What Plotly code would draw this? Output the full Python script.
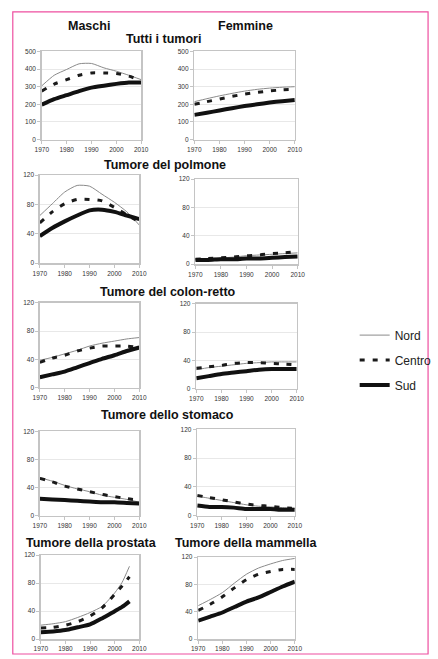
import plotly.graph_objects as go

W, H = 438, 659

years = [1970, 1975, 1980, 1985, 1990, 1995, 2000, 2005, 2010]
years_prostata = [1970, 1975, 1980, 1985, 1990, 1995, 2000, 2003, 2006]

tutti_M_nord = [305, 365, 398, 430, 432, 407, 388, 365, 340]
tutti_M_centro = [275, 315, 340, 365, 378, 378, 375, 360, 335]
tutti_M_sud = [198, 229, 252, 275, 295, 306, 316, 324, 324]

tutti_F_nord = [215, 232, 248, 262, 275, 285, 292, 297, 300]
tutti_F_centro = [200, 215, 230, 245, 258, 268, 276, 282, 285]
tutti_F_sud = [140, 152, 165, 178, 190, 200, 210, 218, 225]

polm_M_nord = [65, 81, 97, 106, 105, 94, 83, 70, 52]
polm_M_centro = [55, 70, 81, 87, 87, 85, 76, 66, 56]
polm_M_sud = [37, 48, 57, 65, 72, 73, 70, 65, 60]

polm_F_nord = [7, 8, 9, 10, 12, 13, 14, 15, 16]
polm_F_centro = [7, 8, 9, 10, 12, 13, 15, 16, 18]
polm_F_sud = [6, 6, 7, 7, 8, 8, 9, 10, 11]

colon_M_nord = [39, 43, 48, 53, 59, 63, 66, 69, 71]
colon_M_centro = [36, 42, 46, 52, 56, 59, 59, 59, 57]
colon_M_sud = [15, 19, 23, 29, 35, 41, 46, 52, 57]

colon_F_nord = [27, 30, 32, 34, 36, 37, 38, 38, 38]
colon_F_centro = [29, 31, 33, 36, 37, 37, 36, 35, 34]
colon_F_sud = [15, 18, 21, 23, 25, 27, 28, 28, 28]

stom_M_nord = [54, 49, 43, 38, 34, 29, 26, 23, 19]
stom_M_centro = [53, 48, 42, 38, 34, 30, 27, 24, 22]
stom_M_sud = [24, 23, 22, 21, 20, 19, 19, 18, 17]

stom_F_nord = [27, 24, 21, 18, 15, 13, 12, 11, 10]
stom_F_centro = [28, 25, 22, 19, 16, 14, 13, 11, 10]
stom_F_sud = [14, 12, 12, 11, 9, 9, 9, 8, 8]

prost_nord = [20, 22, 25, 31, 38, 47, 66, 81, 104]
prost_centro = [16, 17, 20, 25, 33, 45, 64, 76, 89]
prost_sud = [10, 11, 13, 17, 21, 30, 40, 46, 54]

mamm_nord = [49, 58, 68, 82, 95, 104, 110, 115, 118]
mamm_centro = [42, 51, 62, 75, 87, 95, 99, 102, 102]
mamm_sud = [27, 33, 39, 47, 55, 61, 69, 77, 84]

x_ticks = [1970, 1980, 1990, 2000, 2010]
y_ticks_tutti = [0, 100, 200, 300, 400, 500]
y_ticks_sede = [0, 40, 80, 120]

series_names = ["Nord", "Centro", "Sud"]

row_titles = ["Tutti i tumori", "Tumore del polmone", "Tumore del colon-retto",
              "Tumore dello stomaco"]
col_titles = ["Maschi", "Femmine"]
bottom_titles = ["Tumore della prostata", "Tumore della mammella"]

panels_data = [
    (years, tutti_M_nord, tutti_M_centro, tutti_M_sud, 500, y_ticks_tutti),
    (years, tutti_F_nord, tutti_F_centro, tutti_F_sud, 500, y_ticks_tutti),
    (years, polm_M_nord, polm_M_centro, polm_M_sud, 120, y_ticks_sede),
    (years, polm_F_nord, polm_F_centro, polm_F_sud, 120, y_ticks_sede),
    (years, colon_M_nord, colon_M_centro, colon_M_sud, 120, y_ticks_sede),
    (years, colon_F_nord, colon_F_centro, colon_F_sud, 120, y_ticks_sede),
    (years, stom_M_nord, stom_M_centro, stom_M_sud, 120, y_ticks_sede),
    (years, stom_F_nord, stom_F_centro, stom_F_sud, 120, y_ticks_sede),
    (years_prostata, prost_nord, prost_centro, prost_sud, 120, y_ticks_sede),
    (years, mamm_nord, mamm_centro, mamm_sud, 120, y_ticks_sede),
]

# panel plot-area boxes in pixels: (left, right, top, bottom)
boxes = [
    (36, 139, 48, 137), (194, 298, 48, 137),
    (34, 137, 173, 262), (195, 301, 177, 263),
    (34, 137, 302, 388), (196, 300, 303, 389),
    (34, 137, 432, 517), (197, 298, 430, 517),
    (35, 137, 557, 642), (198, 298, 559, 642),
]


def PX(x):
    return x / W


def PY(y):
    return 1 - y / H


styles = [
    dict(color="#8a8a8a", width=1),
    dict(color="#1a1a1a", width=3, dash="5px,8px"),
    dict(color="#111111", width=4),
]

FONT = "Liberation Sans, Arial, sans-serif"

fig = go.Figure()
layout_axes = {}
for i, (xs, n, c, s, ymax, yt) in enumerate(panels_data):
    k = i + 1
    xa = "x" if k == 1 else f"x{k}"
    ya = "y" if k == 1 else f"y{k}"
    for j, vals in enumerate([n, c, s]):
        fig.add_trace(go.Scatter(
            x=xs, y=vals, mode="lines", name=series_names[j],
            line=dict(shape="spline", smoothing=0.6, **styles[j]),
            xaxis=xa, yaxis=ya, showlegend=(k == 1),
            legendgroup=series_names[j], hoverinfo="skip",
        ))
    l, r, t, b = boxes[i]
    axcommon = dict(showline=True, mirror=True, linecolor="#c4c4c4", linewidth=1.5,
                    ticks="outside", ticklen=3, tickcolor="#c4c4c4",
                    tickfont=dict(family=FONT, size=6.5, color="#333333"),
                    zeroline=False)
    layout_axes["xaxis" if k == 1 else f"xaxis{k}"] = dict(
        domain=[PX(l), PX(r)], anchor=ya, range=[1970, 2010],
        tickvals=x_ticks, showgrid=False, **axcommon)
    layout_axes["yaxis" if k == 1 else f"yaxis{k}"] = dict(
        domain=[PY(b), PY(t)], anchor=xa, range=[0, ymax],
        tickvals=yt, showgrid=True, gridcolor="#e8e8e8", gridwidth=1, **axcommon)

annotations = []
tfont = dict(family=FONT, size=12.5, color="#111111")
annotations.append(dict(text="<b>Maschi</b>", x=PX(85), y=PY(22), xref="paper", yref="paper",
                        showarrow=False, font=tfont, xanchor="center", yanchor="middle"))
annotations.append(dict(text="<b>Femmine</b>", x=PX(247), y=PY(22), xref="paper", yref="paper",
                        showarrow=False, font=tfont, xanchor="center", yanchor="middle"))
row_pos = [(162, 35), (164, 163), (167, 291), (166, 415)]
for txt, (cx, cy) in zip(row_titles, row_pos):
    annotations.append(dict(text=f"<b>{txt}</b>", x=PX(cx), y=PY(cy), xref="paper", yref="paper",
                            showarrow=False, font=tfont, xanchor="center", yanchor="middle"))
for txt, (cx, cy) in zip(bottom_titles, [(88, 545), (248, 545)]):
    annotations.append(dict(text=f"<b>{txt}</b>", x=PX(cx), y=PY(cy), xref="paper", yref="paper",
                            showarrow=False, font=tfont, xanchor="center", yanchor="middle"))

fig.update_layout(
    width=W, height=H,
    margin=dict(l=0, r=0, t=0, b=0),
    paper_bgcolor="white", plot_bgcolor="white",
    font=dict(family=FONT),
    annotations=annotations,
    showlegend=True,
    legend=dict(x=PX(360), y=PY(320), xanchor="left", yanchor="top",
                font=dict(family=FONT, size=12, color="#222222"),
                tracegroupgap=6, itemwidth=30, bgcolor="rgba(0,0,0,0)"),
    shapes=[dict(type="rect", xref="paper", yref="paper",
                 x0=PX(6), x1=PX(436), y0=PY(657), y1=PY(8),
                 line=dict(color="#ee4fa0", width=1.2))],
    **layout_axes,
)

fig.write_html(
    "out.html",
    config={"displayModeBar": False, "staticPlot": True},
    post_script="document.body.style.margin='0';document.body.style.padding='0';"
                "document.body.style.overflow='hidden';",
)
